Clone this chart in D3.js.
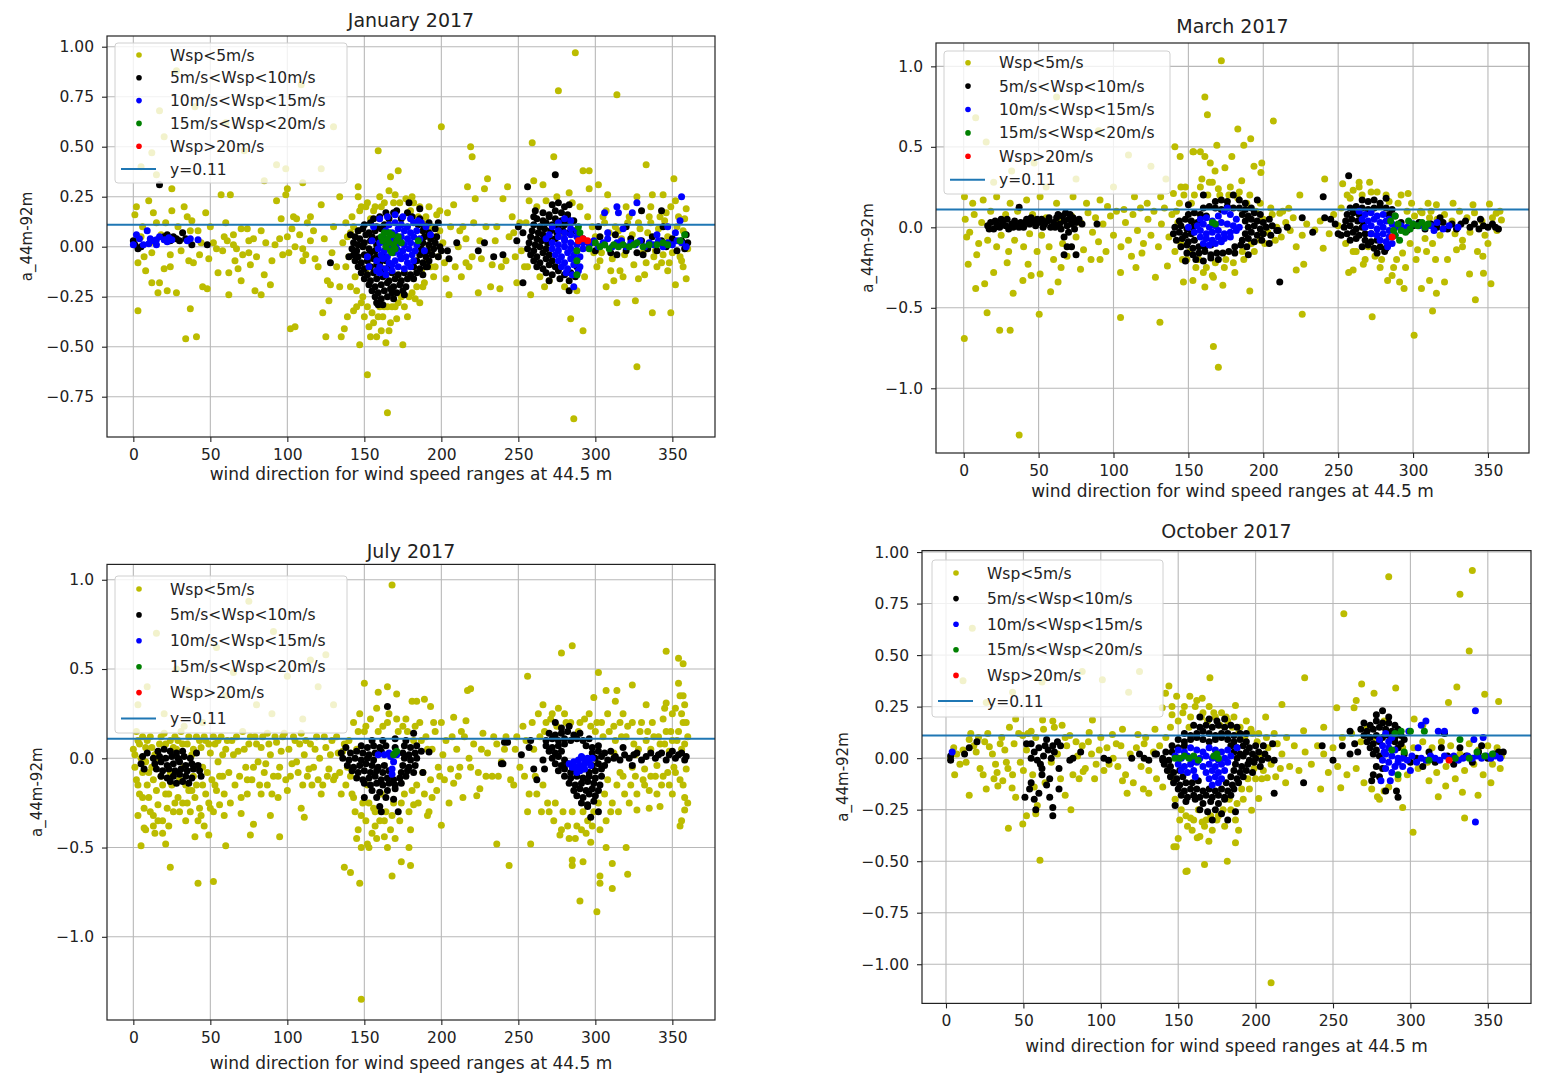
<!DOCTYPE html>
<html>
<head>
<meta charset="utf-8">
<script src="https://cdn.jsdelivr.net/npm/d3@7"></script>
<style>
body{margin:0;background:#fff;}
svg text{font-family:"DejaVu Sans",sans-serif;fill:#222;}
</style>
</head>
<body>
<svg id="fig" width="1553" height="1074"></svg>
<script>
// series shared by every panel
var seriesLabels = ["Wsp<5m/s","5m/s<Wsp<10m/s","10m/s<Wsp<15m/s","15m/s<Wsp<20m/s","Wsp>20m/s"];
var seriesColors = ["#bcbc00","#000000","#0000ff","#008000","#ff0000"];
var refLine = 0.11;
var xTicks = [0,50,100,150,200,250,300,350];

// ---- January 2017 : [wind direction, a_44m-92m]
var jan_lt5 = [[1,.16],[2,.2],[3,-.32],[10,.23],[13,.17],[6,.1],[15,.12],[12,-.03],[7,-.05],[12,-.18],[17,-.18],[16,-.23],[22,-.22],[20,-.11],[24,-.1],[24,-.04],[25,.29],[25,.18],[21,.12],[28,-.23],[34,-.46],[41,-.45],[37,-.31],[38,.13],[37,.08],[36,-.07],[39,-.08],[42,.08],[43,-.04],[47,.17],[45,-.2],[48,-.21],[49,-.06],[52,.02],[54,-.01],[55,-.13],[57,.26],[63,.26],[61,.03],[62,-.13],[62,-.24],[65,.01],[65,.06],[67,-.01],[68,-.11],[70,-.17],[70,.09],[74,.09],[75,.03],[75,-.03],[76,-.09],[79,-.22],[83,.08],[83,-.24],[89,-.19],[92,.01],[93,.23],[95,.04],[97,-.04],[99,.26],[100,.29],[100,.05],[101,-.03],[102,-.41],[105,-.4],[104,.15],[106,.14],[105,0],[110,-.01],[110,-.07],[115,.15],[115,.03],[120,-.1],[122,.21],[123,-.33],[125,-.45],[126,-.17],[128,-.19],[127,-.27],[130,.1],[134,.25],[135,-.45],[137,-.41],[139,-.35],[143,-.32],[141,.07],[146,.25],[146,.3],[147,-.49],[152,-.64],[165,-.83],[159,.48],[167,.35],[172,.38],
[17,.68],[12,.47],[28,.88],[15,.36],[93,.41],[99,.39],[122,.39],[109,.81],[130,.6],[72,.48],[5,.4],[20,.55],[60,.62],[40,.7],[85,.33],[110,.32],
[18,.06],[29,.1],[31,-.02],[35,.15],[44,.02],[58,-.02],[59,.05],[66,-.07],[71,-.04],[78,.04],[80,-.05],[86,.02],[90,-.07],[96,.14],[103,.09],[108,.06],[112,-.04],[117,.08],[118,-.06],[124,.04],[129,-.03],[132,-.1],[136,.02],[138,.12],[134,-.2],[8,-.12],[5,.05],[11,.02],[3,-.08],[60,.12],[50,.1],[33,.2],[85,-.14],[113,.12],
[140,-.05],[142,.15],[144,-.15],[145,-.22],[146,.08],[148,-.28],[148,.2],[150,-.35],[151,-.12],[152,.22],[153,-.4],[154,.14],[155,-.33],[156,-.38],[157,.2],[158,-.45],[160,-.3],[160,.25],[161,-.42],[162,-.35],[163,.22],[164,-.48],[165,-.3],[166,.28],[167,-.38],[168,-.3],[170,.26],[171,-.36],[172,-.28],[173,.22],[175,-.49],[176,-.3],[177,.24],[179,-.25],[180,.18],[181,-.23],[182,.22],[184,-.2],[185,.15],[186,-.28],[187,-.12],[188,.12],[189,-.18],[190,.08],[191,-.08],[192,.2],[193,-.02],[194,.1],[195,-.15],[196,.05],[197,.16],[198,-.05],[199,.18],[200,.6],[201,.02],[203,-.16],[205,-.24],[204,.17],[208,.21],[212,.08],[213,-.15],[216,.04],[216,-.08],[217,.3],[219,.5],[220,.45],[220,-.05],[222,.24],[224,-.23],[225,.03],[228,.29],[230,.34],[232,-.2],[233,-.09],[235,.03],[238,-.21],[240,.24],[242,-.07],[243,.3],[246,.15],[247,.07],[249,-.18],[252,-.02],[257,.23],[258,-.24],[259,.52],[260,.33],[266,.31],[267,-.2],[273,.45],[276,.78],[277,.06],[283,.27],[284,-.36],[286,-.86],[287,.97],[292,-.42],[292,.38],[296,.38],[296,.29],[299,-.03],[302,.31],[303,-.07],[307,-.2],[307,.18],[308,.26],[312,-.17],[314,.76],[314,-.28],[316,-.12],[320,.2],[326,-.27],[327,.25],[327,-.6],[328,-.16],[333,.41],[333,-.08],[335,.15],[337,.26],[338,-.05],[337,-.33],[343,-.08],[344,.26],[346,.17],[348,-.08],[349,-.33],[351,.34],[352,.23],[352,-.19],[355,-.05],[359,.19],[359,-.16],
[298,.1],[300,.05],[304,-.03],[306,.12],[309,.07],[311,-.06],[313,.1],[317,.04],[319,-.04],[321,.12],[324,.06],[325,-.09],[329,.09],[331,-.03],[334,.07],[336,.12],[339,-.02],[341,.09],[344,-.04],[345,.13],[347,.05],[350,-.03],[353,.1],[356,-.07],[357,.08],[358,.14],[360,-.01],
[255,.12],[256,-.1],[262,.2],[264,-.15],[268,.23],[270,-.17],[275,.25],[280,-.2],[285,.22],[288,-.22],[290,.2],[293,-.15],[295,.15],
[138,-.1],[139,.05],[141,-.2],[143,.1],[145,-.3],[147,.18],[149,-.25],[151,.2],[152,-.3],[154,-.45],[156,.18],[159,-.35],[161,.2],[163,-.3],[166,-.42],[169,.22],[170,-.3],[174,-.25],[178,-.35],[181,.25],[183,-.26],[186,.2],[188,-.2],[190,.15],[193,-.1],[196,-.1],[199,.08],[202,-.08],[206,.1],[209,-.1],[211,0],[214,.1],[218,-.1],[221,.12],[226,-.06],[229,.1],[236,.1],[239,-.1],[244,.05],[248,-.05],[251,.12],[254,-.1],
[301,-.1],[305,.15],[310,-.12],[315,.08],[318,-.15],[322,.15],[328,.12],[332,-.14],[336,.2],[340,-.1],[342,.15],[347,-.12],[349,.2],[354,.15],[357,-.1]];

var jan_5_10 = [[0,.03],[1,.01],[3,-.01],[5,0],[17,.31],[20,.05],[22,.06],[26,.05],[28,.04],[32,.07],[34,.04],[38,.01],[48,.01],[30,.03],[24,.03],
[164,.17],[171,.18],[178,.17],[186,.19],[179,.22],[169,.17],
[156,.14],[160,.15],[166,.14],[174,.14],[181,.15],[186,.14],
[150,.11],[154,.12],[158,.1],[163,.11],[185,.11],[189,.1],[192,.12],
[146,.08],[149,.09],[153,.07],[157,.08],[161,.09],[188,.08],[192,.07],[196,.09],
[144,.05],[147,.04],[151,.06],[155,.05],[159,.04],[189,.05],[193,.04],[197,.05],
[143,.02],[146,.01],[150,.02],[154,.03],[158,.01],[188,.02],[192,.01],[196,.02],[199,0],
[142,-.01],[145,-.02],[149,0],[153,-.01],[157,-.02],[187,-.01],[191,-.02],[195,-.01],[200,-.02],
[143,-.04],[146,-.05],[150,-.04],[154,-.03],[158,-.05],[162,-.04],[186,-.04],[190,-.05],[194,-.04],[198,-.05],
[144,-.07],[148,-.08],[152,-.07],[156,-.06],[160,-.08],[164,-.07],[184,-.07],[188,-.08],[192,-.07],
[146,-.1],[150,-.11],[154,-.1],[158,-.09],[162,-.11],[166,-.1],[182,-.1],[186,-.11],[190,-.1],
[148,-.13],[152,-.14],[156,-.13],[160,-.12],[164,-.14],[168,-.13],[172,-.14],[176,-.13],[180,-.14],[184,-.13],[188,-.14],
[150,-.16],[154,-.17],[158,-.16],[162,-.15],[166,-.17],[170,-.16],[174,-.17],[178,-.16],[182,-.16],
[153,-.19],[157,-.2],[161,-.19],[165,-.18],[169,-.2],[173,-.19],[177,-.2],
[155,-.22],[159,-.23],[163,-.22],[167,-.21],[171,-.23],[175,-.22],
[157,-.25],[161,-.26],[165,-.25],[169,-.26],
[158,-.28],[162,-.29],[159,-.29],
[141,.06],[140,-.05],[128,-.08],[210,.02],[204,-.02],[205,-.06],[198,.12],[168,-.23],[176,-.24],[191,-.1],
[272,.21],[276,.22],[280,.2],[283,.21],
[266,.17],[270,.16],[274,.18],[278,.17],[282,.16],
[262,.14],[266,.13],[270,.15],[274,.14],[278,.13],[282,.14],[286,.13],
[260,.11],[264,.1],[268,.12],[272,.11],[276,.1],[280,.11],[284,.12],
[259,.08],[263,.07],[267,.09],[271,.08],[275,.07],[279,.08],[283,.07],[287,.08],
[258,.05],[262,.04],[266,.06],[270,.05],[274,.04],[290,.05],
[257,.02],[261,.01],[265,.03],[269,.02],
[256,-.01],[260,-.02],[264,0],[268,-.01],
[258,-.04],[262,-.05],[266,-.03],[270,-.04],
[260,-.07],[264,-.08],[268,-.06],[272,-.07],
[262,-.1],[266,-.11],[270,-.09],[274,-.1],[288,-.1],
[268,-.13],[272,-.14],[276,-.12],[280,-.14],[284,-.13],[288,-.14],
[270,-.17],[277,-.16],[283,-.17],[287,-.15],
[274,.36],[256,.3],[260,.15],[283,-.22],[253,-.18],[253,.07],[249,.03],[240,-.04],[234,-.05],[224,-.02],[228,.02],[314,-.04],[331,-.04],[343,.18],[330,.18],[261,.18],[250,.1],
[297,.02],[300,-.02],[303,.05],[306,.01],[310,-.03],[313,.06],[317,.02],[320,-.02],[323,.04],[327,-.03],[330,.03],[334,-.01],[337,.05],[340,-.02],[343,.03],[346,0],[350,.04],[353,-.02],[356,.03],[359,.06],[360,.02],[358,-.01],[344,.1],[320,.1],[302,.1]];

var jan_10_15 = [[0,.01],[2,.06],[9,.08],[4,.04],[11,.04],[13,.03],[15,.035],[17,.05],[20,.035],[22,.025],[23,.045],[15,.01],[10,.015],[6.5,.01],[35,.03],[37,.04],[42,.035],[25,.035],
[160,.14],[165,.15],[170,.16],[175,.15],[180,.14],[185,.13],[190,.1],[193,.06],
[166,.11],[170,.12],[174,.11],[178,.1],[182,.12],
[164,.08],[168,.07],[172,.09],[176,.08],[180,.07],[184,.08],
[162,.05],[166,.04],[170,.06],[174,.05],[178,.04],[182,.05],[186,.04],
[160,.02],[164,.01],[168,.03],[172,.02],[176,.01],[180,.02],[184,.01],
[159,-.01],[163,-.02],[167,0],[171,-.01],[175,-.02],[179,-.01],[183,-.02],
[161,-.04],[165,-.05],[169,-.03],[173,-.04],[177,-.05],[181,-.04],
[158,-.07],[162,-.06],[166,-.08],[170,-.07],[174,-.06],[178,-.08],[182,-.07],
[160,-.1],[164,-.11],[168,-.09],[172,-.1],[176,-.11],[180,-.1],
[160,-.13],[164,-.14],[168,-.12],
[152,-.05],[155,.03],[153,-.1],[156,.1],[158,-.12],[187,.12],[189,-.02],
[272,.1],[276,.12],[280,.14],[284,.13],[270,.06],
[276,.08],[280,.07],[284,.09],[288,.08],
[276,.05],[280,.04],[284,.06],[288,.05],[292,.04],
[272,.02],[276,.01],[280,.03],[284,.02],[288,.01],[292,.02],
[272,-.01],[276,-.02],[280,0],[284,-.01],[288,-.02],[292,-.01],
[274,-.04],[278,-.05],[282,-.03],[286,-.04],[290,-.05],
[276,-.07],[280,-.08],[284,-.06],[288,-.07],
[278,-.1],[282,-.11],[286,-.09],[290,-.1],
[281,-.13],[285,-.14],[289,-.12],
[286,-.2],[268,.04],
[296,.01],[299,.03],[302,0],[305,.02],[308,.04],[311,0],[314,.02],[317,.03],[320,0],[323,.02],[326,.01],[329,.03],[332,0],[335,.02],[338,.01],[341,.03],[344,0],[347,.02],[350,.01],[353,.03],[356,.02],[359,0],[306,.17],[314,.2],[315,.17],[324,.17],[327,.22],[356,.25],[347,.1],[355,.13],[308,.07],[318,.09],[340,.06],[352,.07]];

var jan_15_20 = [[166,.02],[168,.06],[167,-.02],[169,.01],[165,.04],[171,.03],[170,-.01],[185,.03],[161,.05],[163,.07],[162,.03],[164,0],[172,.05],[174,.02],[166,.07],[168,-.03],
[289,.1],[290,.07],[288,-.02],[288,-.07],[296,-.01],[303,0],[312,.01],[318,.01],[322,0],[327,.02],[331,0],[335,.01],[347,.01],[355,.03],[358,.06],[288,-.14],[300,.02],[309,-.01],[306,.01],[315,0],[325,.01],[340,.01],[344,.02]];

var jan_gt20 = [[289,.03],[292,.04],[295,.03]];

// ---- March 2017
var mar_lt5 = [[.4,-.69],[37,-1.29],[24,-.64],[31,-.64],[15.6,-.53],[50.4,-.54],[104.7,-.56],[131,-.59],[8,-.38],[14,-.35],[33,-.41],[39.5,-.33],[58,-.4],[63,-.34],[3,-.23],[2,-.06],[8.7,-.17],[20,-.28],[29,-.22],[43,-.23],[51,-.29],[78,-.26],[91,-.2],[104.7,-.28],[112,-.18],[119,-.16],[128,-.31],[136,-.24],[141,.5],[144.5,.44],[153.5,.47],
[.5,.19],[6,.15],[13,.17],[22,.19],[31,.15],[42,.17],[51,.19],[62,.15],[73,.19],[82,.15],[91,.17],[96,.13],[107,.11],[114,.19],[122.5,.15],[131.5,.19],[140,.21],[145,.25],
[8,.68],[15,.53],[62,.81],[32,.35],[47,.4],[20,.28],[90,.6],[110,.45],[75,.3],[125,.38],[135,.3],[55,.25],[100,.25],
[1,.05],[4,-.03],[7,.08],[10,-.1],[12,.03],[16,-.08],[18,.1],[22,-.12],[25,-.05],[28,.08],[30,-.15],[34,-.08],[36,.1],[40,-.12],[44,-.04],[46,.08],[49,-.15],[52,-.05],[55,.06],[57,-.12],[60,-.2],[63,.05],[66,-.1],[69,-.18],[72,.07],[75,-.06],[78,.03],[80,-.14],[83,.09],[86,-.03],[88,.06],[90,-.09],[93,.02],[95,-.15],[98,.07],[100,-.05],[102,.1],[105,-.12],[108,.03],[110,-.08],[113,.08],[116,-.02],[118,.12],[120,-.1],[123,.05],[125,-.05],[127,.1],[130,-.12],[132,.02],[134,.12],[137,-.06],[139,.08],[141,-.15],[143,.03],[65,-.25],[45,-.3],[85,-.2],[115,-.25],
[172,1.035],[161,.81],[162.7,.7],[206.7,.66],[183,.61],[191.6,.55],[187,.51],[169,.51],[153,.47],[158,.47],[161,.44],[164.6,.4],[174.4,.37],[179,.44],[199,.4],[198.4,.34],[193.8,.38],[167.8,.35],[166,.28],[185.6,.29],[241,.3],[271,.28],[264,.28],[253,.27],[260,.23],[296.7,.21],[315.6,.14],[326.7,.15],[351,.145],[355.5,.087],[359,.045],[224.4,.2],[217,.118],[211,.087],[234.4,-.017],[222,-.12],[240,-.13],[227,-.23],[222,-.265],[257,-.28],[260,-.265],[266.8,-.23],[274.6,-.18],[283,-.33],[291,-.34],[294,-.38],[305.6,-.38],[311,-.33],[315.6,-.41],[321,-.34],[313,-.52],[300.7,-.67],[272.7,-.555],[226,-.54],[341.6,-.45],[347,-.285],[352,-.35],[337.7,-.29],[346.6,-.18],[350,-.1],[333,-.12],[329,-.14],[191,-.395],[166.7,-.74],[170,-.87],[166.7,-.31],[173,-.36],[161,-.37],[153,-.33],[146.7,-.34],[198,-.08],
[142,.1],[145,-.1],[147,.2],[149,-.2],[152,.15],[155,-.25],[158,.25],[160,-.28],[163,.2],[166,-.3],[170,.24],[174,-.25],[177,.2],[180,-.22],[183,.18],[186,-.15],[189,.15],[192,-.1],[195,.1],[197,-.05],[200,.05],[203,-.03],[206,.08],[209,0],[212,-.06],[215,.03],[218,-.02],[220,.06],[226,-.05],[229,.02],[238,.04],[244,-.04],[247,.08],[250,.01],
[252,.12],[255,-.1],[258,.18],[262,-.15],[266,.2],[270,-.12],[276,.22],[279,-.2],[284,.16],[287,-.25],[290,.15],[293,-.16],[296,.1],[298,-.1],[301,.07],[303,-.14],[306,.09],[308,-.07],[311,.06],[313,-.1],[316,.05],[318,-.05],[321,.08],[323,-.2],[326,.04],[328,-.04],[331,.1],[333,-.08],[336,.06],[338,-.03],[341,.09],[343,-.15],[346,.04],[348,-.05],[353,.06],[356,-.02],[358,.1],[340,.14],[310,.15],
[144,.15],[146,-.2],[148,.25],[151,-.15],[154,.2],[157,-.2],[159,.3],[162,-.25],[164,.28],[168,-.22],[171,.2],[175,-.2],[178,.25],[181,-.28],[184,.22],[187,-.2],[191,.2],[194,-.15],[198,.15],[201,-.1],[205,.12],[208,-.08],[213,.1],[256,.2],[260,-.15],[264,.25],[268,-.2],[272,.22],[278,-.25],[282,.2],[286,-.3],[289,-.2],[292,.2],[295,-.25],[299,.15],[302,-.2],[305,.1],[309,-.15],[312,.1],[315,-.2]];

var mar_5_10 = [[16,.01],[18,.03],[20,-.01],[22,.02],[24,0],[26,.03],[28,.01],[30,-.01],[32,.02],[34,.04],[36,.01],[38,.03],[40,0],[42,.05],[44,.02],[46,.04],[48,.01],[50,.03],[52,.05],[54,.02],[56,.04],[58,0],[60,.03],[62,.06],[64,.02],[66,.07],[67,.04],[68,.09],[69,.01],[70,.05],[71,.08],[72,.02],[73,.06],[75,.03],[77,.05],[79,.02],[17,-.01],[21,.04],[25,.05],[29,.05],[33,0],[37,0],[41,.03],[45,.06],[49,.05],[53,0],[57,.06],[61,0],[65,-.01],[63,.08],[67,-.06],[69,-.12],[72,-.12],[67,-.17],[75,-.17],[37,.125],[89,.02],[70,-.03],[74,-.01],
[168,.16],[172,.17],[176,.16],[180,.2],[184,.17],[188,.15],[196,.17],
[160,.12],[164,.13],[168,.12],[172,.11],[176,.13],[180,.12],[184,.12],[188,.11],[192,.12],
[150,.08],[154,.09],[158,.08],[162,.07],[186,.08],[190,.07],[194,.09],[198,.08],
[144,.04],[148,.05],[152,.04],[156,.03],[188,.04],[192,.05],[196,.04],[200,.03],[204,.05],
[141,0],[145,.01],[149,-.01],[153,0],[190,0],[194,.01],[198,-.01],[202,0],[206,.01],[210,-.02],
[140,-.04],[144,-.03],[148,-.05],[152,-.04],[188,-.04],[192,-.03],[196,-.05],[200,-.04],[205,-.05],
[142,-.08],[146,-.07],[150,-.09],[154,-.08],[186,-.08],[190,-.07],[194,-.09],[199,-.08],
[145,-.12],[149,-.11],[153,-.13],[157,-.12],[161,-.12],[165,-.11],[181,-.12],[185,-.11],[189,-.12],
[149,-.16],[153,-.17],[157,-.16],[161,-.15],[165,-.17],[169,-.16],[173,-.16],[177,-.15],[181,-.16],[190,-.17],
[148,-.21],[155,-.2],[160,-.21],[165,-.19],[170,-.2],
[211,-.34],[209,-.02],[216,0],[226,.06],[240,.19],[241,.06],[233,-.03],[250,-.04],[160,.2],[150,.14],[204,-.1],
[266,.17],[270,.16],[274,.17],[278,.15],[282,.18],
[258,.12],[262,.13],[266,.12],[270,.11],[274,.12],[278,.13],[282,.12],[286,.11],
[256,.08],[260,.09],[264,.08],[284,.08],[288,.07],
[255,.04],[259,.05],[263,.04],[267,.03],
[254,0],[258,.01],[262,-.01],[266,0],
[256,-.04],[260,-.03],[264,-.05],[268,-.04],[272,-.04],
[258,-.08],[262,-.07],[268,-.08],[272,-.09],[276,-.08],
[266,-.12],[270,-.11],[274,-.13],[278,-.12],[282,-.13],
[276,-.16],[281,-.15],
[257,.32],[248,.02],[252,-.05],[245,.05],
[292,.03],[296,-.02],[300,.01],[304,.03],[308,-.01],[312,.02],[316,0],[320,.03],[323,-.01],[326,.02],[329,-.01],[332,.02],[335,.04],[338,0],[341,.02],[344,-.01],[347,.01],[350,0],[353,.02],[355,0],[357,-.01],[345,.05],[318,.06]];

var mar_10_15 = [[158,.05],[162,.06],[166,.04],[170,.07],[174,.1],[178,.08],[182,.05],
[156,.01],[160,.02],[164,0],[168,.01],[172,.03],[176,.02],[180,.01],[184,0],
[154,-.03],[158,-.02],[162,-.04],[166,-.03],[170,-.02],[174,-.04],[178,-.03],[182,-.02],
[158,-.06],[162,-.07],[166,-.08],[170,-.06],[174,-.07],[178,-.06],
[160,-.1],[164,-.11],[168,-.1],[172,-.09],[150,0],[176,.12],
[264,.1],[268,.08],[272,.09],[276,.07],[280,.08],[284,.05],
[266,.05],[270,.04],[274,.05],[278,.03],[282,.04],[286,.02],
[268,0],[272,.01],[276,-.01],[280,0],[284,-.02],[288,0],
[272,-.04],[276,-.05],[280,-.04],[284,-.06],[288,-.05],
[278,-.08],[282,-.09],[286,-.1],[283,-.12],
[292,.01],[296,0],[300,.02],[304,.01],[308,0],[312,.01],[316,.03],[320,-.01],[324,.01],[330,0],[314,-.02]];

var mar_15_20 = [[166,.03],[168,.02],
[285,.04],[288,.07],[290,.02],[292,-.02],[288,-.05],[291,-.08],[295,-.03],[297,.04],[300,.02],[303,.01],[306,.03],[308,0],[310,.02],[298,-.01],[287,-.02]];

var mar_gt20 = [[286,-.06]];

// ---- July 2017
var jul_lt5 = [[75,.88],[15,.7],[91,.71],[125,.58],[54,.62],[9,.4],[35,.38],[65,.48],[100,.46],[120,.4],[20,.25],[45,.2],[80,.3],[110,.22],[130,.3],[60,.35],[90,.25],[3,.3],[28,.5],[115,.55],
[0,.05],[1,-.05],[2,-.12],[3,.1],[4,-.2],[5,0],[6,-.08],[7,-.28],[8,.06],[9,-.15],[10,-.22],[11,.12],[12,-.05],[13,-.32],[14,.02],[15,-.18],[16,-.26],[17,.08],[18,-.1],[19,-.35],[20,.14],[21,-.2],[22,-.28],[24,.1],[25,-.15],[26,-.3],[28,.05],[29,-.22],[30,-.12],[31,.15],[32,-.25],[33,-.05],[34,-.35],[35,.08],[36,-.18],[37,-.3],[38,.02],[39,-.1],[40,-.22],[41,.12],[42,-.05],[43,-.28],[44,.06],[45,-.15],[46,-.38],[47,.1],[48,-.08],[49,-.25],[50,.03],[51,-.12],[52,-.3],[53,.08],[54,-.18],[55,-.02],[56,-.26],[57,.12],[58,-.1],[59,-.2],[60,.05],[2,.15],[6,.12],[8,-.4],[3,-.32],[14,-.42],[23,-.38],[11,-.3],[27,.12],[33,.18],[44,-.32],
[62,-.08],[64,.1],[66,-.15],[68,.04],[70,-.22],[71,.15],[73,-.05],[75,.08],[77,-.12],[79,.12],[81,-.02],[83,.06],[85,-.08],[87,.14],[89,.02],[91,-.1],[93,.09],[95,-.05],[97,.12],[99,-.12],[101,.05],[103,-.03],[105,.1],[107,-.08],[109,.14],[111,.02],[113,-.1],[115,.08],[117,-.05],[119,.12],[121,0],[123,-.15],[125,.06],[127,-.06],[129,.1],[131,-.1],[133,.03],[135,-.2],[137,.08],[139,-.05],[76,-.43],[78,-.37],[70,-.31],[89,-.32],[95,-.44],[111,-.33],[109,-.28],[100,-.18],[94,-.22],[87,-.15],[83,-.2],[74,-.12],[116,-.15],[130,-.12],[122,-.2],[24,-.61],[42,-.7],[52,-.69],[5,-.49],[60,-.49],[21,-.48],[40,-.44],[7,-.39],[13,-.38],[19,-.42],[49,-.43],
[137,-.61],[141,-.64],[147,-.7],[168,-.66],[148,-.5],[153,-.5],[165,-.5],[148,-1.35],[168,.97],[174,-.58],[180,-.6],[179,-.5],[191,-.32],[200,-.375],[194,-.22],[182,-.26],[150,.42],[165,.4],[159,.37],[171,.36],[181,.32],[184,.32],[189,.33],[193,.29],[200,.2],[208,.23],[216,.21],[217,.38],[219,.39],[201,.02],[206,-.06],[199,-.1],[208,-.14],[214,-.22],[223,-.21],[225,-.17],[236,-.48],[244,-.6],[258,-.48],[256,.46],[266,.3],
[140,.1],[142,-.2],[143,.2],[144,-.3],[145,.05],[146,-.4],[147,.25],[149,-.25],[150,.15],[151,-.35],[152,-.15],[154,.22],[155,-.42],[156,-.28],[158,.28],[160,-.35],[161,-.2],[162,.18],[164,-.3],[166,.25],[167,-.4],[169,-.25],[171,.22],[173,-.35],[175,.18],[176,-.2],[178,.15],[180,-.4],[182,.1],[184,-.15],[186,.2],[188,-.08],[190,.12],[192,-.3],[194,.05],[196,.15],[198,-.05],[203,.1],[205,-.25],[210,.05],[212,-.05],[215,.12],[218,0],[221,.08],[224,-.08],[227,.14],[230,.03],[233,-.1],[236,.08],[239,-.02],[242,.12],[245,-.12],[248,.05],[251,-.05],[253,.18],[145,-.45],[152,-.48],[158,-.45],[163,-.44],[170,-.45],[157,-.38],
[278,.59],[285,.63],[302,.48],[307,.38],[314,.38],[324,.41],[299,.34],[313,.32],[333,.3],[346,.31],[346,.6],[354,.56],[357,.53],[354,.42],[357,.35],[290,-.8],[301,-.86],[311,-.73],[303,-.66],[303,-.7],[321,-.65],[311,-.59],[320,-.5],[285,-.6],[285,-.57],[292,-.58],[277,-.43],[297,-.47],[307,-.5],[355,-.38],[356,-.35],[358,-.29],[358,-.22],[342,-.27],[327,-.29],[335,-.28],[350,-.2],
[255,.1],[257,-.2],[259,.2],[261,-.1],[263,.25],[265,-.3],[267,.15],[269,-.25],[271,.22],[273,-.35],[275,.18],[278,-.4],[280,.25],[282,-.38],[284,.2],[287,-.45],[289,.15],[291,-.4],[293,.22],[295,-.35],[297,.18],[299,-.3],[301,.2],[303,-.4],[305,.12],[307,-.35],[309,.15],[311,-.25],[313,.1],[315,-.3],[317,.12],[319,-.2],[321,.18],[323,-.15],[325,.08],[327,-.2],[329,.15],[331,-.12],[333,.1],[335,-.18],[337,.2],[339,-.1],[341,.12],[343,-.15],[345,.08],[347,-.08],[349,.15],[351,-.05],[353,.1],[355,-.12],[357,.2],[358,.08],[359,-.06],[360,.12],[356,.25],[352,.28],[344,.22],[318,.25],[308,-.12],[316,-.08],[324,-.05],[332,-.06],[340,-.04],[348,.04],[336,.05],[326,.02],[312,.03],
[1,.02],[3,-.15],[4,.08],[6,-.22],[8,-.02],[9,.1],[10,-.08],[12,.06],[13,-.12],[15,0],[16,-.35],[18,.12],[19,-.15],[21,.08],[23,-.2],[24,-.08],[26,.06],[27,-.25],[29,.1],[30,-.3],[32,.08],[34,-.15],[35,-.25],[36,.12],[38,-.18],[39,.05],[41,-.15],[42,-.35],[43,.1],[45,-.05],[46,.12],[47,-.2],[49,.08],[50,-.28],[52,.12],[53,-.15],[55,.1],[56,-.1],[58,.02],[59,-.32],[61,.1],[63,-.25],[65,.02],[67,.12],[69,-.1],[72,.05],[74,-.2],[76,.12],[78,-.05],[80,.08],[82,-.15],[84,.12],[86,-.03],[88,.08],[90,-.2],[92,.12],[94,-.1],[96,.04],[98,.14],[102,-.1],[104,.12],[106,-.02],[108,.08],[110,-.15],[112,.1],[114,-.06],[118,.05],[120,-.12],[124,.12],[126,-.1],[128,.02],[132,.12],[134,-.08],[136,.04],[138,-.15],
[141,-.1],[143,-.22],[146,.15],[148,-.32],[151,.18],[153,-.25],[157,-.3],[159,.15],[163,-.35],[165,.2],[168,-.32],[172,.15],[174,-.25],[177,.22],[179,-.3],[181,-.18],[183,.18],[185,-.25],[187,.1],[189,-.2],[191,.05],[193,-.12],[195,.2],[197,-.18],[202,-.12],[207,.12],[211,-.1],[213,.15],[219,-.05],[226,.05],[229,-.1],[234,.12],[237,-.1],[241,.05],[247,-.15],[249,.12],[254,-.1],[256,-.3],[260,.05],[262,-.2],[264,.12],[266,-.15],[268,.2],[270,-.3],[272,.25],[274,-.25],[276,.28],[279,-.3],[281,.2],[283,-.45],[285,-.3],[288,-.38],[290,.2],[292,-.3],[294,-.42],[296,.25],[298,-.38],[300,.15],[302,-.25],[304,.2],[306,-.2],[308,.25],[310,-.3],[312,.18],[314,-.15],[316,.2],[318,-.1],[320,.12],[322,-.25],[324,.2],[326,-.1],[328,.05],[330,.2],[332,-.15],[334,.15],[336,-.1],[338,.12],[340,-.2],[342,.08],[344,-.1],[346,.15],[348,-.15],[350,.1],[352,-.08],[354,.15],[356,.05],[357,-.15],[359,.2],[360,-.25],[358,.3],[355,.35],[350,.25],[345,.28]];

var jul_5_10 = [[16,.04],[20,.05],[24,.04],[28,.03],[32,.04],
[6,.01],[13,0],[17,.01],[21,0],[25,.01],[29,0],[33,.01],[37,0],
[5,-.03],[14,-.03],[18,-.02],[22,-.04],[26,-.03],[30,-.02],[34,-.04],[38,-.03],[42,-.04],
[15,-.06],[19,-.07],[23,-.06],[27,-.07],[31,-.06],[35,-.07],[39,-.06],[43,-.07],
[18,-.1],[22,-.11],[26,-.1],[30,-.09],[34,-.1],[38,-.11],[44,-.1],
[24,-.13],[28,-.14],[32,-.13],[36,-.14],[7,-.06],[9,.03],[41,.03],
[155,.1],[162,.1],[170,.11],[177,.1],
[148,.07],[152,.06],[156,.07],[160,.06],[164,.07],[170,.06],[176,.07],[180,.06],[184,.07],
[141,.03],[145,.04],[149,.03],[153,.02],[157,.03],[161,.04],[175,.03],[179,.02],[183,.03],[187,.04],
[136,0],[140,-.01],[144,0],[148,-.01],[152,0],[156,-.01],[176,0],[180,-.01],[184,0],
[139,-.04],[143,-.05],[147,-.04],[151,-.03],[155,-.04],[159,-.05],[163,-.04],[175,-.04],[179,-.05],[183,-.04],
[142,-.07],[146,-.08],[150,-.07],[154,-.08],[158,-.07],[162,-.08],[166,-.07],[174,-.08],[178,-.07],[182,-.08],[188,-.08],
[145,-.11],[149,-.12],[153,-.11],[157,-.1],[161,-.12],[165,-.11],[169,-.12],[173,-.11],[177,-.1],
[150,-.14],[154,-.15],[158,-.14],[162,-.15],[166,-.14],[170,-.15],[174,-.14],
[155,-.18],[160,-.19],[165,-.18],[170,-.17],
[158,-.22],[164,-.22],[169,-.23],
[160,-.27],[161,-.3],[172,-.3],[165,.29],[182,.14],[192,.035],[239,-.03],[241,.09],[135,.03],[150,-.22],[138,.06],
[274,.2],[278,.17],[283,.18],
[270,.14],[274,.13],[278,.14],[282,.15],[286,.13],[290,.14],
[268,.1],[272,.11],[276,.1],[280,.11],[284,.1],[288,.11],[292,.1],[296,.11],
[268,.07],[272,.06],[276,.07],[280,.08],[294,.07],[298,.06],[302,.07],
[270,.04],[274,.03],[278,.04],[298,.03],[302,.04],[306,.03],[310,.04],
[272,0],[276,.01],[280,-.01],[300,0],[304,.01],[308,-.01],[312,0],
[274,-.03],[278,-.04],[282,-.03],[298,-.04],[302,-.03],[306,-.04],
[276,-.07],[280,-.06],[284,-.08],[288,-.07],[292,-.06],[296,-.08],[300,-.07],[304,-.06],
[280,-.1],[284,-.11],[288,-.1],[292,-.11],[296,-.1],[300,-.11],[304,-.1],
[283,-.14],[287,-.15],[291,-.14],[295,-.13],[299,-.14],[303,-.15],
[286,-.18],[290,-.17],[294,-.18],[298,-.17],[302,-.18],
[288,-.21],[292,-.22],[296,-.2],[300,-.21],
[291,-.25],[295,-.26],[299,-.24],
[297,-.33],[302,-.3],[295,-.27],[257,.06],[260,-.06],[262,-.12],[267,-.06],[266,-.01],[240,-.03],[243,.09],[252,.02],[258,.1],
[313,.01],[316,-.01],[319,.02],[322,0],[325,.02],[327,.03],[330,-.01],[333,.01],[336,.03],[339,0],[341,.02],[343,.03],[346,-.01],[348,.02],[350,.04],[352,0],[354,.02],[356,.03],[358,-.01],[359,.01],[318,.06],[324,-.04]];

var jul_10_15 = [[159,.02],[163,.02],[167,.01],[169,-.02],[168,-.06],[168,-.09],[166,.03],[171,.02],
[283,-.03],[286,-.02],[289,-.01],[292,0],[295,0],[298,0],[287,-.05],[290,-.04],[293,-.03],[296,-.02],[290,-.07],[293,-.06],[288,-.08],[285,-.05],[291,.01],[297,-.04]];

var jul_15_20 = [[170,.03],[171,.04],[169,.02]];

var jul_gt20 = [];

// ---- October 2017
var oct_lt5 = [[60.7,-.495],[40.3,-.34],[49.6,-.32],[52,-.28],[15,-.18],[5.6,-.08],[26,-.15],[33.5,-.135],[36.7,-.11],[42.7,-.145],[45,-.19],[59,-.23],[58,-.27],[80.7,-.25],[77,-.18],[114,-.11],[117,-.17],[127.5,-.15],[131,-.17],[148.7,-.43],[150,-.39],[155,-.55],
[11,.04],[15,.09],[19.5,.03],[28,.055],[32,-.03],[35,.07],[41,.15],[45,.19],[49.6,.11],[55,.13],[62.4,.185],[69,.18],[75,.16],[80,.11],[84,.08],[92.5,.125],[94.6,.185],[99,.04],[97,-.03],[88.6,-.065],[105.4,-.03],[110,.07],[107.5,.115],[114,.14],[124,.115],[128,.07],[135,.14],[139.7,.245],[141.8,.315],[144,.35],[146,.21],
[17,.63],[11,.375],[26,.27],[43,.32],[62,.37],[88,.42],[101,.38],[118,.32],[125,.42],
[3,0],[7,.02],[13,-.02],[18,.06],[22,-.05],[25,.08],[30,.02],[33,-.07],[38,.04],[40,-.05],[44,.07],[48,-.02],[52,.04],[56,-.08],[58,.1],[64,-.12],[68,-.02],[72,.02],[74,-.1],[78,.06],[82,-.08],[85,.01],[88,.06],[90,-.05],[94,.02],[96,-.1],[102,-.06],[104,.05],[108,0],[111,-.04],[113,.06],[116,-.08],[119,.02],[121,-.12],[123,.05],[126,-.04],[129,.1],[131,-.06],[134,.03],[136,-.1],[138,.06],[140,-.14],[142,.1],[144,-.06],
[286,.88],[340,.91],[332,.795],[338,.52],[257,.7],[231.7,.39],[170.5,.39],[268.5,.36],[290.5,.34],[330,.345],[348,.31],[357,.275],[324.6,.27],[276.5,.315],[265,.28],[263.6,.245],[252.4,.245],[217,.26],[206.5,.2],[187,.255],[165.5,.29],[157.5,.3],[231,.133],[244,.15],[302.4,.19],[308,.16],
[295,-.24],[301.7,-.36],[335,-.29],[343.7,-.18],[333.6,-.166],[352,-.12],[318,-.187],[322.8,-.135],[312,-.11],[278.7,-.187],[283,-.16],[255,-.144],[242,-.15],[219.4,-.12],[213,-.09],[207.5,-.095],[202,-.196],[197.4,-.253],[189,-.35],[187,-.41],[181.7,-.5],[167,-.516],[155.8,-.547],[162.3,-.386],[147.2,-.43],[169.8,-.403],[210,-1.09],[158,-.29],[165.5,-.31],
[298,-.08],[302,.05],[305,-.05],[308,.08],[311,-.02],[314,.05],[317,-.07],[320,.08],[323,-.04],[326,.06],[329,-.1],[332,.02],[335,-.06],[338,.07],[341,-.03],[344,.04],[347,-.08],[350,.06],[353,-.03],[356,.05],[358,-.05],[359,.01],
[250,.05],[253,-.04],[256,.1],[259,-.08],[262,.12],[265,-.05],[268,.08],[270,-.12],[272,.15],[275,-.15],[277,.1],[280,-.2],[283,.18],[286,-.14],[289,.12],[292,-.1],[295,.05],
[146,.25],[148,-.2],[150,.18],[151,-.3],[153,.22],[155,-.28],[157,.15],[159,-.35],[161,.25],[163,-.25],[165,.2],[167,-.33],[169,.18],[171,-.28],[173,.22],[175,-.3],[177,.16],[179,-.25],[181,.2],[183,-.2],[185,.15],[187,-.3],[189,.12],[191,-.15],[193,.1],[195,-.1],[197,.14],[199,-.05],[201,.08],[203,.02],[205,-.06],[208,.05],[210,-.03],[214,.07],[217,.02],[222,-.04],[225,.06],[228,-.06],[232,.03],[236,-.03],[240,.06],[244,.02],[247,-.07],
[145,.15],[147,-.1],[149,.3],[152,-.25],[154,.25],[156,-.33],[158,.2],[160,-.3],[162,.28],[164,-.38],[166,.22],[168,-.3],[170,.25],[172,-.35],[174,.2],[176,-.28],[178,.22],[180,-.33],[182,.18],[184,-.25],[186,.2],[188,-.22],[190,.15],[192,-.2],[194,.18],[196,-.15],[198,.12],[200,-.1],[202,.12],[204,-.1],[207,.1],[212,.12],[216,-.05],[220,.1],
[5,.05],[9,-.03],[16,.12],[21,.1],[24,-.08],[27,.12],[31,-.1],[36,.1],[39,-.02],[43,-.08],[47,.12],[50,-.06],[53,.12],[57,-.14],[63,.14],[70,.15],[77,.1],[86,-.1],[92,.08],[100,.1]];

var oct_5_10 = [[3,-.01],[3,.01],[12,.02],[15,.05],[20,.08],[52,.07],[51,-.19],[54,-.15],[55,-.12],[58,-.25],[62,-.05],[62,-.08],[65,-.13],[67,-.19],[67,-.1],[69,-.24],[69,-.28],[73,-.15],[73,-.05],[65,.09],[66,.04],[69,.06],[74,.06],[55,0],[59,-.01],[55,.07],[57,.03],[60,.05],[63,.01],[68,0],[70,.03],[72,.08],[61,-.03],[64,.06],[80,-.01],[82,0],[87,.03],[102,0],[105,-.01],[120,0],[125,.02],[128,0],[131,-.01],[136,.02],[140,-.01],[60,-.17],[57,-.2],
[164,.2],[170,.19],[175,.18],[180,.19],
[160,.16],[164,.15],[168,.16],[172,.15],[176,.16],[180,.15],[184,.16],[188,.15],
[154,.12],[158,.11],[162,.12],[166,.13],[170,.12],[174,.11],[178,.12],[182,.12],[186,.11],[190,.12],[194,.12],
[150,.09],[154,.08],[158,.09],[162,.1],[166,.09],[170,.08],[174,.09],[178,.1],[182,.09],[186,.08],[190,.09],[194,.08],
[146,.06],[150,.05],[154,.06],[184,.06],[188,.05],[192,.06],[196,.05],[200,.06],[205,.06],[211,.07],
[142,.03],[146,.03],[186,.03],[190,.02],[194,.03],[198,.02],[202,.03],[206,.02],
[140,0],[144,-.01],[188,0],[192,.01],[196,-.01],[200,0],[204,-.01],[208,0],[212,-.01],
[141,-.03],[145,-.04],[187,-.03],[191,-.04],[195,-.03],[199,-.02],[203,-.04],
[143,-.06],[147,-.07],[151,-.06],[186,-.06],[190,-.07],[194,-.06],[198,-.07],
[145,-.09],[149,-.1],[153,-.09],[184,-.09],[188,-.1],[192,-.09],
[147,-.12],[151,-.13],[155,-.12],[159,-.12],[163,-.11],[181,-.12],[185,-.13],[189,-.12],
[150,-.15],[154,-.16],[158,-.15],[162,-.15],[166,-.16],[170,-.15],[174,-.16],[178,-.15],[182,-.16],[186,-.15],
[152,-.18],[156,-.19],[160,-.18],[164,-.19],[168,-.18],[172,-.19],[176,-.18],[180,-.19],[184,-.18],
[148,-.23],[155,-.21],[161,-.2],[166,-.22],[171,-.21],[176,-.22],[180,-.2],[187,-.26],
[164,-.25],[169,-.26],[174,-.25],[178,-.27],
[172,-.3],[182,-.3],[212,-.17],[231,-.12],[243,.06],[250,-.01],[256,.06],[261,.02],[264,.07],[261,.13],[266,.03],[135,.02],
[278,.21],[282,.23],[286,.2],
[270,.17],[274,.16],[278,.18],[282,.17],[286,.17],[290,.16],
[268,.14],[272,.13],[276,.14],[280,.15],[284,.14],[288,.13],[292,.14],
[270,.11],[274,.1],[278,.11],[282,.1],[286,.11],[290,.1],[294,.11],
[272,.08],[276,.07],[280,.08],[290,.08],[294,.07],
[274,.05],[278,.04],[292,.05],
[276,.02],[280,.01],
[278,-.04],[282,-.05],
[276,-.08],[280,-.09],
[275,-.11],[284,-.16],[292,-.19],[291,-.16],
[296,.02],[300,-.02],[304,0],[308,-.04],[312,.03],[316,-.02],[320,.05],[324,.01],[328,-.03],[332,.05],[336,.01],[340,-.02],[344,.03],[346,.06],[350,0],[354,.02],[357,.03],[360,.03],[322,.12],[296,.09]];

var oct_10_15 = [[150,.04],[154,.03],[158,.05],[162,.04],[166,.03],[170,.05],[174,.04],[178,.03],[182,.04],
[148,.01],[152,0],[156,.01],[160,-.01],[164,0],[168,.01],[172,0],[176,-.01],[180,0],[184,.01],
[150,-.03],[154,-.04],[158,-.03],[162,-.02],[166,-.04],[170,-.03],[174,-.04],[178,-.03],[182,-.02],
[152,-.06],[156,-.07],[160,-.06],[168,-.07],[172,-.06],[176,-.07],[180,-.06],
[170,-.1],[174,-.09],[178,-.1],[172,-.13],[176,-.12],[161,-.09],[188,.05],[4,.03],
[284,.12],[288,.1],[286,.08],[282,.06],[286,.05],[290,.04],[284,.02],[288,.01],[292,0],[282,-.01],[286,-.02],[290,-.04],[284,-.05],[288,-.07],[281,-.11],[287,-.11],[292,-.02],[280,.09],[283,.03],
[295,0],[298,-.01],[301,.01],[304,-.02],[307,0],[310,-.01],[313,.01],[316,0],[319,-.01],[322,.01],[325,0],[328,.01],[331,-.01],[334,0],[337,.01],[340,0],[343,.01],[346,0],[349,.01],[352,0],[355,.01],[358,0],
[310,.18],[307,.16],[299,.13],[318,.13],[322,.13],[342,.23],[342,-.31],[341,.09],[347,.1],[300,-.06],[295,-.04],[305,.05]];

var oct_15_20 = [[148,0],[151,0],[154,.01],[157,0],[160,.01],[173,.01],[176,0],[175,.02],[163,-.01],
[294,.13],[300,.13],[309,.13],[332,.09],[288,.04],[292,-.08],[329,0],[343,.03],[353,.02],[312,-.01],[296,.03],[290,.12],[338,0],[348,.01]];

var oct_gt20 = [[325,-.01]];

// panel layout (pixel boxes taken from the original figure)
var panels = [
  {title:"January 2017", series:[jan_lt5,jan_5_10,jan_10_15,jan_15_20,jan_gt20],
   box:{x:107,y:36,w:608,h:401}, xDom:[-17.1,377.7], yDom:[-0.9515,1.0535],
   yTicks:[-0.75,-0.5,-0.25,0,0.25,0.5,0.75,1], yFmt:".2f",
   titleY:27, xlabY:480, ylabX:27,
   leg:{x:115,y:43,w:232,h:140,first:55,step:22.8}},
  {title:"March 2017", series:[mar_lt5,mar_5_10,mar_10_15,mar_15_20,mar_gt20],
   box:{x:936,y:43,w:593,h:410}, xDom:[-18.5,377.4], yDom:[-1.402,1.145],
   yTicks:[-1,-0.5,0,0.5,1], yFmt:".1f",
   titleY:33, xlabY:497, ylabX:868,
   leg:{x:944,y:51,w:226,h:143,first:62.7,step:23.4}},
  {title:"July 2017", series:[jul_lt5,jul_5_10,jul_10_15,jul_15_20,jul_gt20],
   box:{x:107,y:564.4,w:608,h:455.6}, xDom:[-17.1,377.7], yDom:[-1.466,1.086],
   yTicks:[-1,-0.5,0,0.5,1], yFmt:".1f",
   titleY:558, xlabY:1069, ylabX:37,
   leg:{x:115,y:576,w:232,h:157,first:589,step:25.9}},
  {title:"October 2017", series:[oct_lt5,oct_5_10,oct_10_15,oct_15_20,oct_gt20],
   box:{x:922,y:550.6,w:609,h:452.8}, xDom:[-15.5,377.9], yDom:[-1.19,1.007],
   yTicks:[-1,-0.75,-0.5,-0.25,0,0.25,0.5,0.75,1], yFmt:".2f",
   titleY:538, xlabY:1052, ylabX:843,
   leg:{x:932,y:560,w:231,h:157,first:573,step:25.6}}
];

var svg = d3.select("#fig");

panels.forEach(function(p){
    var b = p.box;
    var x = d3.scaleLinear().domain(p.xDom).range([b.x, b.x + b.w]);
    var y = d3.scaleLinear().domain(p.yDom).range([b.y + b.h, b.y]);
    var g = svg.append("g");

    // grid
    g.append("g").selectAll("line").data(xTicks).enter().append("line")
        .attr("x1", d => x(d)).attr("x2", d => x(d))
        .attr("y1", b.y).attr("y2", b.y + b.h)
        .attr("stroke", "#b8b8b8").attr("stroke-width", 1.1);
    g.append("g").selectAll("line").data(p.yTicks).enter().append("line")
        .attr("y1", d => y(d)).attr("y2", d => y(d))
        .attr("x1", b.x).attr("x2", b.x + b.w)
        .attr("stroke", "#b8b8b8").attr("stroke-width", 1.1);

    // scatter, one layer per wind speed range
    p.series.forEach(function(s, i){
        g.append("g").selectAll("circle").data(s).enter().append("circle")
            .attr("cx", d => x(d[0])).attr("cy", d => y(d[1]))
            .attr("r", 3.5).attr("fill", seriesColors[i]);
    });

    // y=0.11
    g.append("line")
        .attr("x1", b.x).attr("x2", b.x + b.w)
        .attr("y1", y(refLine)).attr("y2", y(refLine))
        .attr("stroke", "#1f77b4").attr("stroke-width", 2);

    // axes
    var gx = g.append("g").attr("transform", "translate(0," + (b.y + b.h) + ")")
        .call(d3.axisBottom(x).tickValues(xTicks).tickFormat(d3.format("d"))
            .tickSize(5).tickPadding(7).tickSizeOuter(0));
    var gy = g.append("g").attr("transform", "translate(" + b.x + ",0)")
        .call(d3.axisLeft(y).tickValues(p.yTicks).tickFormat(d3.format(p.yFmt))
            .tickSize(5).tickPadding(8).tickSizeOuter(0));
    [gx, gy].forEach(function(a){
        a.select(".domain").remove();
        a.selectAll(".tick line").attr("stroke", "#222").attr("stroke-width", 1.1);
        a.selectAll(".tick text").attr("font-size", 15.5).attr("fill", "#222")
            .style("font-family", '"DejaVu Sans",sans-serif');
    });

    g.append("rect").attr("x", b.x).attr("y", b.y).attr("width", b.w).attr("height", b.h)
        .attr("fill", "none").attr("stroke", "#222").attr("stroke-width", 1.2);

    // legend
    var L = p.leg;
    var lg = g.append("g");
    lg.append("rect").attr("x", L.x).attr("y", L.y).attr("width", L.w).attr("height", L.h)
        .attr("rx", 3).attr("fill", "#fff").attr("fill-opacity", 0.8)
        .attr("stroke", "#d0d0d0").attr("stroke-width", 1);
    seriesLabels.forEach(function(lab, i){
        var cy = L.first + i * L.step;
        lg.append("circle").attr("cx", L.x + 24).attr("cy", cy).attr("r", 2.8)
            .attr("fill", seriesColors[i]);
        lg.append("text").attr("x", L.x + 55).attr("y", cy + 5.5)
            .attr("font-size", 15.5).text(lab);
    });
    var ly = L.first + 5 * L.step;
    lg.append("line").attr("x1", L.x + 6).attr("x2", L.x + 41)
        .attr("y1", ly).attr("y2", ly).attr("stroke", "#1f77b4").attr("stroke-width", 2);
    lg.append("text").attr("x", L.x + 55).attr("y", ly + 5.5)
        .attr("font-size", 15.5).text("y=" + refLine);

    // titles and labels
    g.append("text").attr("x", b.x + b.w / 2).attr("y", p.titleY)
        .attr("text-anchor", "middle").attr("font-size", 19).text(p.title);
    g.append("text").attr("x", b.x + b.w / 2).attr("y", p.xlabY)
        .attr("text-anchor", "middle").attr("font-size", 17)
        .text("wind direction for wind speed ranges at 44.5 m");
    g.append("text")
        .attr("transform", "translate(" + (p.ylabX + 5) + "," + (b.y + b.h / 2) + ") rotate(-90)")
        .attr("text-anchor", "middle").attr("font-size", 15).text("a_44m-92m");
});
</script>
